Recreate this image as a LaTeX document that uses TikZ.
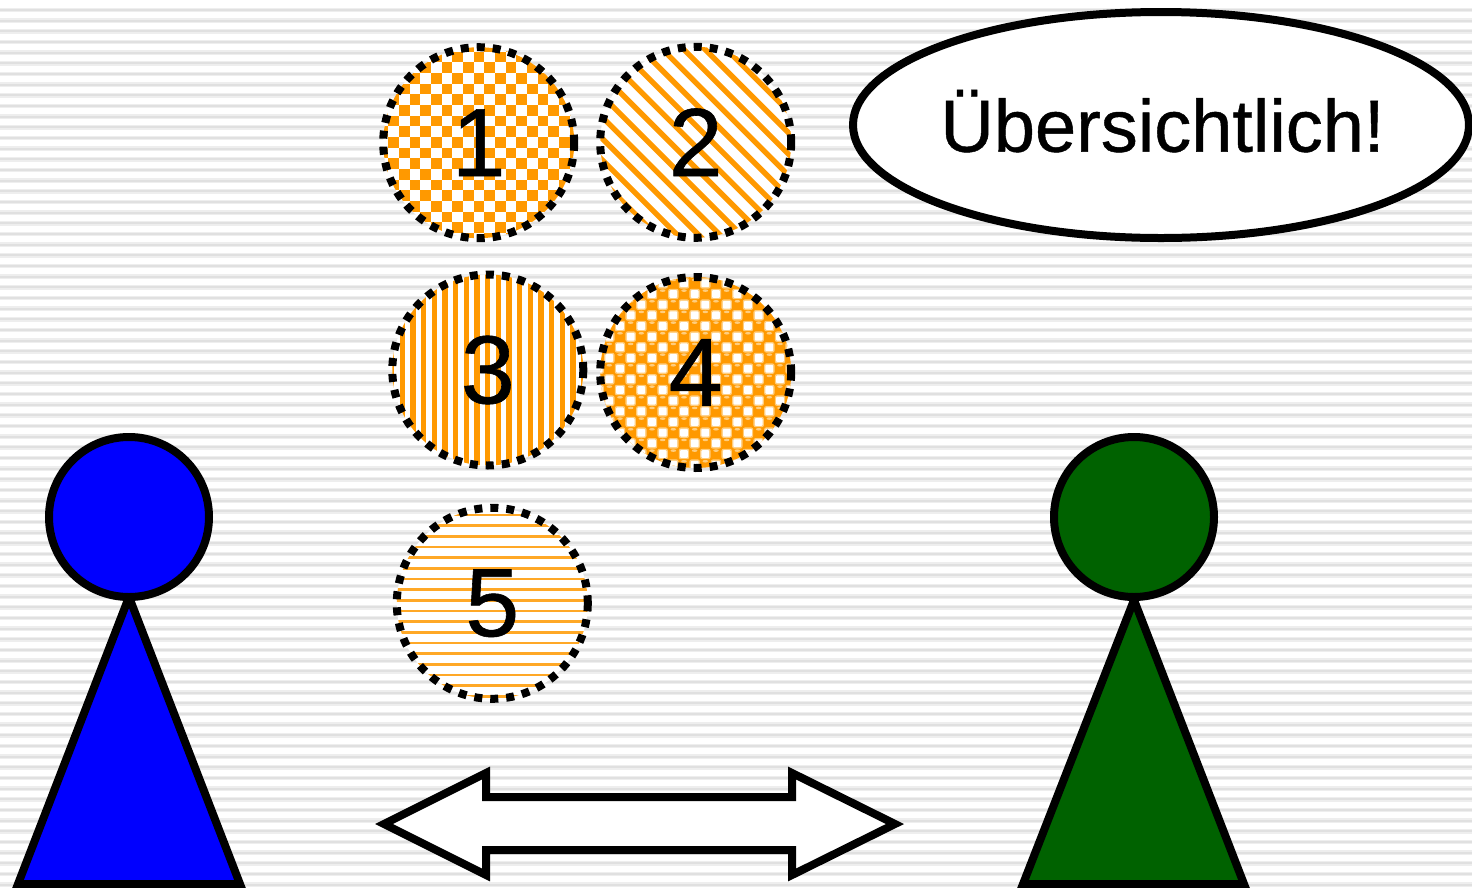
\documentclass[tikz,border=0pt]{standalone}
\usepackage{fontspec}
\setmainfont{Liberation Sans}[FakeBold=0.6]
\definecolor{org}{RGB}{255,153,0}
\definecolor{orgl}{RGB}{255,205,125}
\definecolor{gstripe}{RGB}{224,224,224}
\definecolor{gsoft}{RGB}{238,238,238}
\definecolor{dgreen}{RGB}{0,98,0}
\tikzset{
  outl/.style={draw=black,line width=8pt,miter limit=10},
  disc/.style={circle,draw=black,line width=8pt,dash pattern=on 8pt off 8pt,minimum size=191pt,inner sep=0pt,font=\fontsize{97}{97}\selectfont},
}
\begin{document}
\begin{tikzpicture}[x=1pt,y=-1pt]
\useasboundingbox (0,0) rectangle (1472,887);
\clip (0,0) rectangle (1472,887);
\fill[white] (0,0) rectangle (1472,887);
% background stripes
\foreach \k in {0,...,83}{
  \pgfmathsetmacro{\yy}{10+10.6667*\k}
  \fill[gsoft] (0,\yy-2.3) rectangle (1472,\yy+2.3);
  \fill[gstripe] (0,\yy-1.1) rectangle (1472,\yy+1.1);
}
% 1 checker
\begin{scope}
\clip (478.7,142.7) circle (95.5);
\fill[white] (370,30) rectangle (590,250);
\foreach \i in {0,...,20}\foreach \j in {0,...,20}{
  \pgfmathparse{int(mod(\i+\j,2))}
  \ifnum\pgfmathresult=0
    \fill[org] ({377.7+10.6667*\i},{41+10.6667*\j}) rectangle +(10.6667,10.6667);
  \fi}
\end{scope}
% 2 diagonal
\begin{scope}
\clip (695.7,142.3) circle (95.5);
\fill[white] (590,30) rectangle (810,250);
\foreach \i in {-8,...,7}{
  \draw[org,line width=5.4pt] ({712.7+21.3333*\i-120},{142.3-120}) -- ({712.7+21.3333*\i+120},{142.3+120});
}
\end{scope}
% 3 vertical
\begin{scope}
\clip (487.8,370) circle (95.5);
\fill[white] (380,265) rectangle (600,480);
\foreach \i in {0,...,20}{
  \fill[org] ({389+10.6667*\i},265) rectangle +(5.3,220);
}
\end{scope}
% 4 spheres
\begin{scope}
\clip (695.7,372.5) circle (95.5);
\fill[org] (590,265) rectangle (810,485);
\foreach \i in {0,...,21}\foreach \j in {0,...,21}{
  \pgfmathparse{int(mod(\i+\j,2))}
  \ifnum\pgfmathresult=1
    \fill[orgl,rounded corners=2pt] ({588+10.6667*\i-5.2},{262+10.6667*\j-5.2}) rectangle +(10.4,10.4);
    \fill[white,rounded corners=1pt] ({588+10.6667*\i-3.9},{262+10.6667*\j-3.9}) rectangle +(7.8,7.8);
  \else
    \fill[orgl] ({588+10.6667*\i},{262+10.6667*\j-3.4}) ellipse (2.8 and 1.3);
  \fi}
\end{scope}
% 5 horizontal
\begin{scope}
\clip (492.3,603.3) circle (95.5);
\fill[white] (385,495) rectangle (605,715);
\foreach \j in {0,...,18}{
  \fill[org!85] (385,{513.7+10.6667*\j}) rectangle +(220,2.6);
}
\end{scope}
\node[disc] (c1) at (478.7,142.7) {1};
\node[disc] (c2) at (695.7,142.3) {2};
\node[disc] (c3) at (487.8,370) {3};
\node[disc] (c4) at (695.7,372.5) {4};
\node[disc] (c5) at (492.3,603.3) {5};
% speech bubble
\draw[outl,fill=white] (1161,125) ellipse (308 and 113);
\node[font=\fontsize{74}{74}\selectfont,inner sep=0pt,anchor=base] (say) at (1162.5,151.7) {Übersichtlich!};
% people
\draw[outl,fill=blue] (129,597) -- (18,884) -- (240,884) -- cycle;
\draw[outl,fill=blue] (129,517) circle (80);
\draw[outl,fill=dgreen] (1134,600) -- (1023,884) -- (1244,884) -- cycle;
\draw[outl,fill=dgreen] (1134,517) circle (80);
% double arrow
\draw[outl,fill=white] (384,824) -- (486,773) -- (486,797) -- (792,797) -- (792,773) -- (895,824) -- (792,875) -- (792,850) -- (486,850) -- (486,875) -- cycle;
\end{tikzpicture}
\end{document}
